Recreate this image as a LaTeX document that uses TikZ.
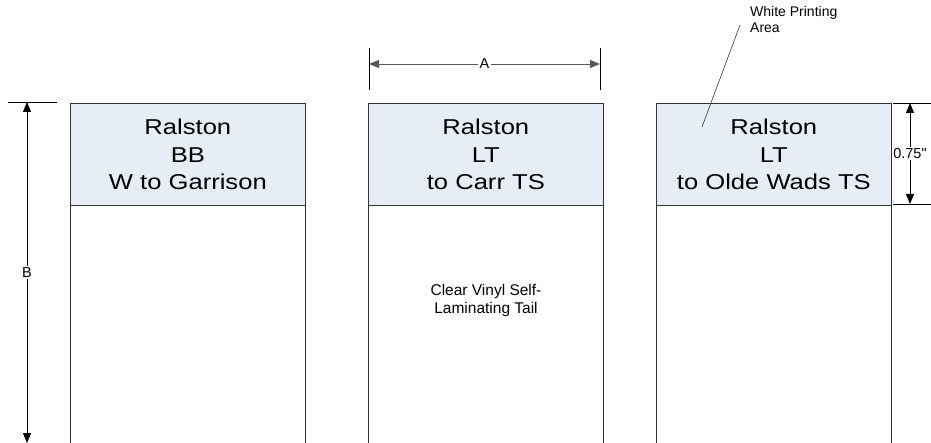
\documentclass[tikz,border=0pt]{standalone}
\usepackage{fontspec}
\setmainfont{Liberation Sans}
\newfontfamily\headfont{Liberation Sans}[FakeStretch=1.19]
\newfontfamily\dimfont{Liberation Sans}
\usetikzlibrary{arrows.meta,positioning}
\definecolor{headfill}{RGB}{231,237,247}
\tikzset{
	header/.style={draw=black!80, line width=0.7pt, fill=headfill, minimum width=235pt, minimum height=102pt, inner sep=0pt, align=center, anchor=north west, font=\headfont\fontsize{21.5}{27.5}\selectfont},
	edge/.style={black!80, line width=0.7pt},
	dimline/.style={black, line width=0.8pt, {Triangle[length=10pt,width=8pt]}-{Triangle[length=10pt,width=8pt]}},
	dimtick/.style={black, line width=0.8pt},
	dimlabel/.style={fill=white, inner sep=1.5pt, font=\dimfont\fontsize{14.5}{16}\selectfont},
	note/.style={align=center, font=\fontsize{15.5}{18}\selectfont}
}
\begin{document}
\begin{tikzpicture}[x=1pt,y=-1pt]
	\useasboundingbox (0,0) rectangle (931,443);
	% printed headers
	\node[header] (p1) at (70,103) {Ralston\\BB\\W to Garrison};
	\node[header] (p2) at (368,103) {Ralston\\LT\\to Carr TS};
	\node[header] (p3) at (656,103) {Ralston\\LT\\to Olde Wads TS};
	% clear tails, open at the bottom
	\coordinate (bot) at (0,443);
	\foreach \p in {p1,p2,p3}{
		\draw[edge] (\p.south west) -- (\p.south west |- bot);
		\draw[edge] (\p.south east) -- (\p.south east |- bot);
	}
	\node[note] (tail) at (486,300) {Clear Vinyl Self-\\Laminating Tail};

	% dimension A
	\coordinate (a1t) at (369,48); \coordinate (a1b) at (369,90);
	\coordinate (a2t) at (600,48); \coordinate (a2b) at (600,90);
	\coordinate (a1) at (369,64); \coordinate (a2) at (600,64);
	\draw[dimtick] (a1t) -- (a1b);
	\draw[dimtick] (a2t) -- (a2b);
	\draw[dimline, draw=black!65] (a1) -- node[dimlabel]{A} (a2);

	% dimension B
	\coordinate (b0) at (8,102); \coordinate (b1) at (57,102);
	\coordinate (bt) at (27,102); \coordinate (bb) at (27,443);
	\draw[dimtick] (b0) -- (b1);
	\draw[dimline] (bt) -- node[dimlabel]{B} (bb);

	% dimension 0.75"
	\coordinate (c0) at (893,103); \coordinate (c1) at (931,103);
	\coordinate (c2) at (893,204); \coordinate (c3) at (931,204);
	\coordinate (ct) at (910,103); \coordinate (cb) at (910,204);
	\draw[dimtick] (c0) -- (c1);
	\draw[dimtick] (c2) -- (c3);
	\draw[dimline] (ct) -- node[dimlabel, inner sep=1pt]{0.75"} (cb);

	% callout
	\node[align=left, anchor=north west, inner sep=0pt, font=\fontsize{14}{16.5}\selectfont] (wpa) at (750,6) {White Printing\\Area};
	\coordinate (w1) at (740,25); \coordinate (w2) at (702,127);
	\draw[black!80, line width=0.6pt] (w1) -- (w2);
\end{tikzpicture}
\end{document}
